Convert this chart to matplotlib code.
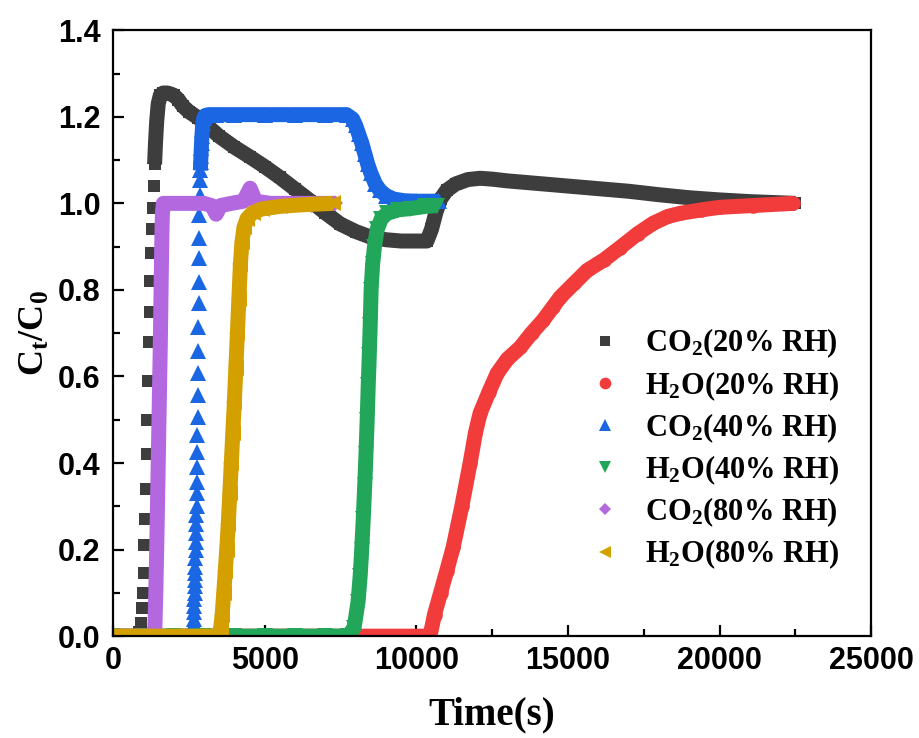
import matplotlib
matplotlib.use('Agg')
import matplotlib.pyplot as plt
from matplotlib.ticker import MultipleLocator

plt.rcParams['font.family'] = 'Liberation Serif'
plt.rcParams['font.weight'] = 'bold'
plt.rcParams['mathtext.fontset'] = 'custom'
plt.rcParams['mathtext.rm'] = 'Liberation Serif:bold'
plt.rcParams['mathtext.it'] = 'Liberation Serif:bold'
plt.rcParams['mathtext.bf'] = 'Liberation Serif:bold'

# CO2 breakthrough, 20% RH
co2_20_t = [0, 300, 600, 850, 930, 960, 985, 1010, 1035, 1060, 1085, 1110, 1135,
            1160, 1185, 1210, 1235, 1260, 1285, 1310, 1340, 1370,
            1400, 1440, 1490, 1560, 1650, 1800, 2000, 2150, 2300, 2500, 2800,
            3100, 3500, 4000, 4500, 5000, 5500, 6000, 6500, 7000, 7500, 8000,
            8500, 9000, 9500, 10000, 10350, 10500, 10650, 10800, 11000, 11300,
            11700, 12100, 12500, 13000, 14000, 15000, 16000, 17000, 18000,
            19000, 20000, 21000, 22500]
co2_20_c = [0, 0, 0, 0.01, 0.03, 0.065, 0.10, 0.145, 0.21, 0.27, 0.34, 0.42, 0.50,
            0.59, 0.68, 0.75, 0.82, 0.885, 0.94, 0.99, 1.04, 1.09,
            1.14, 1.19, 1.23, 1.25, 1.255, 1.255, 1.25, 1.24, 1.225, 1.212, 1.198,
            1.18, 1.155, 1.13, 1.108, 1.085, 1.06, 1.033, 1.006, 0.978, 0.952, 0.935,
            0.922, 0.916, 0.913, 0.913, 0.913, 0.94, 0.98, 1.01, 1.03, 1.045,
            1.055, 1.058, 1.056, 1.052, 1.046, 1.04, 1.034, 1.028, 1.02,
            1.013, 1.008, 1.004, 1.0]

# H2O breakthrough, 20% RH
h2o_20_t = [0, 2000, 4000, 6000, 8000, 10000, 10450, 10600, 10800, 11000, 11214,
            11500, 11774, 11950, 12104, 12400, 12665, 13000, 13424, 13800, 14182,
            14500, 14743, 15200, 15633, 16200, 16722, 17300, 17810, 18300, 18701,
            19400, 20020, 21108, 22427]
h2o_20_c = [0, 0, 0, 0, 0, 0, 0, 0.05, 0.10, 0.15, 0.205,
            0.30, 0.40, 0.47, 0.515, 0.565, 0.607, 0.64, 0.667, 0.70, 0.73,
            0.76, 0.783, 0.815, 0.845, 0.87, 0.898, 0.93, 0.954, 0.97, 0.977,
            0.985, 0.991, 0.995, 1.0]

# CO2 breakthrough, 40% RH
co2_40_t = [0, 1000, 2000, 2600, 2640, 2646, 2652, 2658, 2664, 2670, 2676, 2682,
            2688, 2694, 2700, 2706, 2712, 2718, 2724, 2730, 2736, 2742, 2748,
            2754, 2760, 2766, 2772, 2778, 2784, 2790, 2796, 2802, 2808, 2814,
            2820, 2826, 2832, 2840, 2850, 2860, 2870, 2880,
            2890, 2900, 2910, 2920, 2930, 2945, 2960, 2990, 3040, 3150, 3400,
            4000, 5000, 6000, 7000, 7700, 7900, 8000, 8100, 8200, 8300, 8400,
            8500, 8650, 8800, 9000, 9250, 9600, 10000, 10750]
co2_40_c = [0, 0, 0, 0, 0.005, 0.01, 0.02, 0.03, 0.04, 0.055, 0.07, 0.085,
            0.10, 0.115, 0.13, 0.145, 0.16, 0.18, 0.199, 0.217, 0.238, 0.26, 0.28,
            0.30, 0.33, 0.356, 0.39, 0.425, 0.464, 0.506, 0.557, 0.607, 0.66, 0.714,
            0.769, 0.818, 0.873, 0.921, 0.972, 1.02, 1.053, 1.076,
            1.095, 1.11, 1.127, 1.14, 1.155, 1.17, 1.185, 1.197, 1.203, 1.205, 1.205,
            1.205, 1.205, 1.205, 1.205, 1.205, 1.195, 1.18, 1.16, 1.14, 1.115, 1.09,
            1.07, 1.045, 1.03, 1.018, 1.01, 1.006, 1.005, 1.005]

# H2O breakthrough, 40% RH
h2o_40_t = [0, 1000, 2000, 3000, 4000, 5000, 6000, 7000, 7750, 7950, 8080, 8150,
            8200, 8250, 8300, 8340, 8380, 8415, 8450, 8480, 8510, 8560, 8620,
            8710, 8850, 9040, 9400, 9800, 10300, 10690]
h2o_40_c = [0, 0, 0, 0, 0, 0, 0, 0, 0, 0.02, 0.08, 0.14,
            0.20, 0.27, 0.35, 0.42, 0.50, 0.58, 0.65, 0.72, 0.80, 0.86, 0.90,
            0.94, 0.965, 0.977, 0.985, 0.988, 0.993, 0.995]

# CO2 breakthrough, 80% RH
co2_80_t = [0, 500, 1000, 1300, 1380, 1395, 1410, 1425, 1440, 1455, 1470, 1485,
            1500, 1515, 1530, 1545, 1560, 1572, 1584, 1596, 1608, 1618, 1630,
            1660, 2000, 2500, 3000, 3250, 3400, 3550, 3900, 4300, 4520, 4700,
            5200, 6000, 6800, 7350]
co2_80_c = [0, 0, 0, 0, 0.02, 0.06, 0.10, 0.15, 0.20, 0.26, 0.32, 0.38,
            0.44, 0.50, 0.56, 0.62, 0.68, 0.74, 0.80, 0.86, 0.91, 0.95, 0.98,
            1.0, 1.0, 1.0, 1.0, 0.995, 0.975, 0.995, 1.0, 1.005, 1.035, 1.005,
            1.0, 1.0, 1.0, 1.0]

# H2O breakthrough, 80% RH
h2o_80_t = [0, 1000, 2000, 3000, 3500, 3550, 3600, 3650, 3700, 3750, 3800, 3850,
            3900, 3950, 4000, 4050, 4100, 4150, 4200, 4250, 4320, 4420, 4600,
            4900, 5500, 6300, 7250]
h2o_80_c = [0, 0, 0, 0, 0, 0.02, 0.05, 0.10, 0.15, 0.20, 0.26, 0.33,
            0.40, 0.47, 0.54, 0.62, 0.70, 0.78, 0.86, 0.91, 0.945, 0.965, 0.978,
            0.987, 0.993, 0.997, 1.0]

# (time, value, label, colour, marker, marker size, index where the dense band starts)
series = [
    (co2_20_t, co2_20_c, 'CO$_2$(20% RH)', '#3d3d3d', 's', 8.5, 21),
    (h2o_20_t, h2o_20_c, 'H$_2$O(20% RH)', '#f23b3b', 'o', 10.5, 0),
    (co2_40_t, co2_40_c, 'CO$_2$(40% RH)', '#1a66e3', '^', 11, 41),
    (h2o_40_t, h2o_40_c, 'H$_2$O(40% RH)', '#22a65a', 'v', 11, 0),
    (co2_80_t, co2_80_c, 'CO$_2$(80% RH)', '#b368e0', 'D', 7.5, 0),
    (h2o_80_t, h2o_80_c, 'H$_2$O(80% RH)', '#d4a000', '<', 11, 0),
]

fig, ax = plt.subplots(figsize=(9.19, 7.38), dpi=100)
fig.subplots_adjust(left=0.123, right=0.948, top=0.959, bottom=0.138)

for i, (t, c, label, color, marker, ms, start) in enumerate(series):
    z = 2 + i
    ax.plot(t[start:], c[start:], '-', color=color, lw=10.8, zorder=z,
            solid_capstyle='butt', solid_joinstyle='round')
    ax.plot(t, c, ls='none', marker=marker, ms=ms, color=color,
            markeredgewidth=0, label=label, zorder=z)

ax.set_xlim(0, 25000)
ax.set_ylim(0, 1.4)
ax.xaxis.set_major_locator(MultipleLocator(5000))
ax.xaxis.set_minor_locator(MultipleLocator(2500))
ax.yaxis.set_major_locator(MultipleLocator(0.2))
ax.yaxis.set_minor_locator(MultipleLocator(0.1))
ax.set_yticks([0, 0.2, 0.4, 0.6, 0.8, 1.0, 1.2, 1.4])
ax.set_yticklabels(['0.0', '0.2', '0.4', '0.6', '0.8', '1.0', '1.2', '1.4'])

for s in ax.spines.values():
    s.set_linewidth(1.6)
    s.set_zorder(20)
ax.tick_params(which='both', direction='in', top=False, right=False, width=1.6)
ax.tick_params(which='major', length=8)
ax.tick_params(which='minor', length=5)
ax.tick_params(axis='y', pad=9)
ax.tick_params(axis='x', pad=7)
for lbl in ax.get_xticklabels() + ax.get_yticklabels():
    lbl.set_fontfamily('Liberation Sans')
    lbl.set_fontweight('bold')
    lbl.set_fontsize(22)

ax.set_xlabel('Time(s)', fontsize=28, fontweight='bold', labelpad=15)
ax.set_ylabel(r'C$_\mathrm{t}$/C$_\mathrm{0}$', fontsize=26, fontweight='bold', labelpad=4)

ax.legend(loc='center left', bbox_to_anchor=(0.629, 0.309), frameon=False,
          prop={'family': 'Liberation Serif', 'weight': 'bold', 'size': 22},
          handlelength=1.0, handletextpad=0.8, labelspacing=0.28,
          borderpad=0, borderaxespad=0, markerscale=0.8)

fig.savefig('out.png', dpi=100)
